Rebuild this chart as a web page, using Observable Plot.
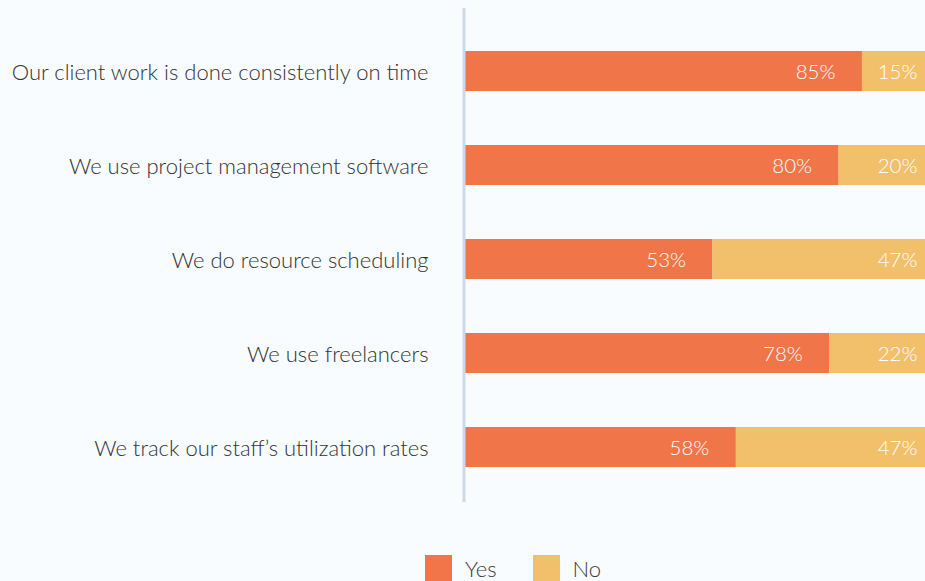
<!DOCTYPE html>
<html>
<head>
<meta charset="utf-8">
<script src="https://cdn.jsdelivr.net/npm/d3@7"></script>
<script src="https://cdn.jsdelivr.net/npm/@observablehq/plot@0.6"></script>
<style>
  html, body { margin: 0; padding: 0; background: #f8fcfe; overflow: hidden; width: 925px; height: 581px; }
  #chart { position: absolute; left: 0; top: 0; }
  .legend { position: absolute; left: 425px; top: 555px; display: flex; align-items: center; font-family: Lato, sans-serif; font-weight: 300; font-size: 22px; color: #3a3a3a; }
  .legend .sw { width: 27px; height: 27px; display: inline-block; margin-right: 13px; }
  .legend .item { display: flex; align-items: center; margin-right: 36px; }
</style>
</head>
<body>
<div id="chart"></div>
<div class="legend">
  <div class="item"><span class="sw" style="background:#f0764a"></span><span>Yes</span></div>
  <div class="item"><span class="sw" style="background:#f2bf6a"></span><span>No</span></div>
</div>
<script>
const categories = [
  "Our client work is done consistently on time",
  "We use project management software",
  "We do resource scheduling",
  "We use freelancers",
  "We track our staff’s utilization rates"
];
const yesValues = [85, 80, 53, 78, 58];
const noValues = [15, 20, 47, 22, 47];
const seriesNames = ["Yes", "No"];
const seriesColors = ["#f0764a", "#f2bf6a"];

const rows = categories.map((c, i) => ({category: c, yes: yesValues[i], no: noValues[i]}));

const plot = Plot.plot({
  width: 925,
  height: 540,
  marginTop: 24,
  marginBottom: 46,
  marginLeft: 465,
  marginRight: 0,
  style: {background: "transparent", overflow: "hidden", fontFamily: "Lato, sans-serif"},
  x: {domain: [0, 100], range: [465, 932], axis: null},
  y: {domain: categories, padding: 0, axis: null},
  marks: [
    Plot.barX(rows, {y: "category", x1: 0, x2: "yes", fill: seriesColors[0], insetTop: 27, insetBottom: 27}),
    Plot.barX(rows, {y: "category", x1: "yes", x2: d => d.yes + d.no, fill: seriesColors[1], insetTop: 27, insetBottom: 27}),
    Plot.ruleX([0], {stroke: "#cdd9e8", strokeWidth: 3, dx: -1.5, insetTop: -16, insetBottom: -8}),
    Plot.text(rows, {y: "category", x: 0, text: "category", textAnchor: "end", dx: -37, dy: 1.5, fontSize: 22, fontWeight: 300, fill: "#333"}),
    Plot.text(rows, {y: "category", x: "yes", text: d => d.yes + "%", textAnchor: "end", dx: -27, dy: 1, fontSize: 20.5, fontWeight: 300, fill: "white"}),
    Plot.text(rows, {y: "category", x: 100, text: d => d.no + "%", textAnchor: "end", dx: -15, dy: 1, fontSize: 20.5, fontWeight: 300, fill: "white"})
  ]
});
document.getElementById("chart").appendChild(plot);
</script>
</body>
</html>
